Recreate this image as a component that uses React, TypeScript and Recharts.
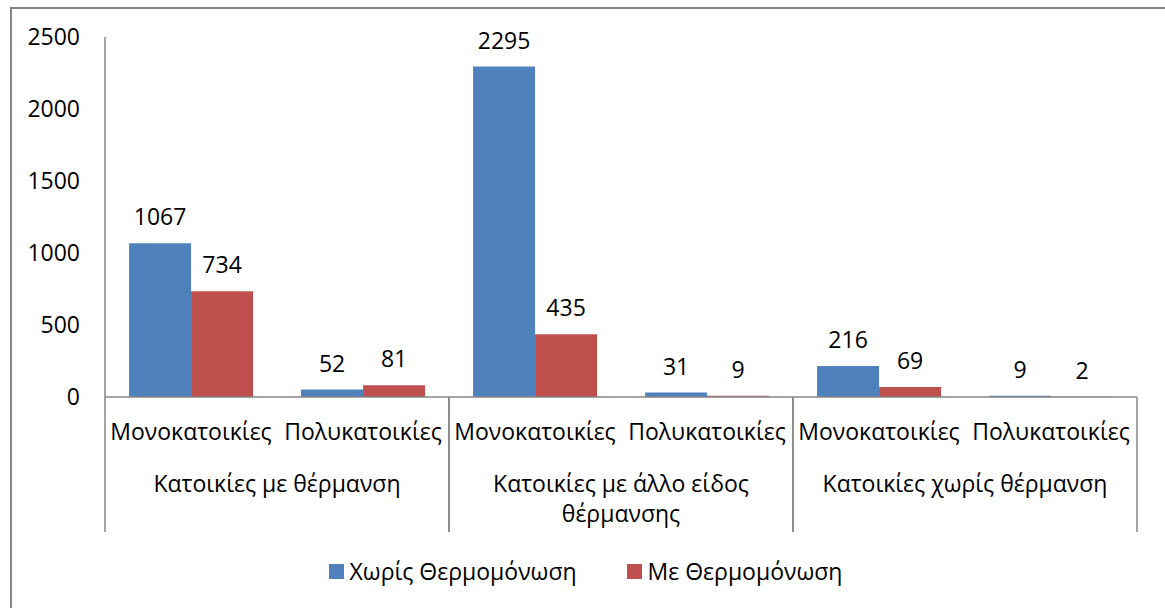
import { BarChart, Bar, XAxis, YAxis, Legend, LabelList } from 'recharts'

const font = '"Open Sans", "Noto Sans", sans-serif'
const fs = 23

const groups = ['Κατοικίες με θέρμανση', 'Κατοικίες με άλλο είδος θέρμανσης', 'Κατοικίες χωρίς θέρμανση']
const types = ['Μονοκατοικίες', 'Πολυκατοικίες']
const seriesNames = ['Χωρίς Θερμομόνωση', 'Με Θερμομόνωση']
const withoutInsulation = [1067, 52, 2295, 31, 216, 9]
const withInsulation = [734, 81, 435, 9, 69, 2]
const yTicks = [0, 500, 1000, 1500, 2000, 2500]

const data = withoutInsulation.map((v, i) => ({
  group: groups[Math.floor(i / 2)],
  type: types[i % 2],
  without: v,
  with: withInsulation[i],
}))

const axisGray = '#868686'
const subAxisHeight = 58

// word wrap using canvas text metrics
function wrap(text: string, maxWidth: number) {
  const ctx = document.createElement('canvas').getContext('2d')!
  ctx.font = `${fs}px ${font}`
  const lines: string[] = []
  let cur = ''
  for (const w of text.split(' ')) {
    const next = cur ? cur + ' ' + w : w
    if (cur && ctx.measureText(next).width > maxWidth) {
      lines.push(cur)
      cur = w
    } else cur = next
  }
  if (cur) lines.push(cur)
  return lines
}

function GroupTick(props: any) {
  const { x, y, payload } = props
  const half = payload.offset ?? 0
  const lines = wrap(String(payload.value), 300)
  return (
    <g>
      <line x1={x - half} x2={x - half} y1={y - subAxisHeight} y2={y + 77} stroke={axisGray} strokeWidth={1.5} />
      <line x1={x + half} x2={x + half} y1={y - subAxisHeight} y2={y + 77} stroke={axisGray} strokeWidth={1.5} />
      <text textAnchor="middle" fontSize={fs} fontFamily={font} fill="#000">
        {lines.map((l, i) => (
          <tspan key={i} x={x} y={y + 37 + i * 30}>{l}</tspan>
        ))}
      </text>
    </g>
  )
}

function LegendContent(props: any) {
  const items = [...(props.payload || [])].sort(
    (a: any, b: any) => seriesNames.indexOf(a.value) - seriesNames.indexOf(b.value))
  return (
    <div style={{ display: 'flex', justifyContent: 'center', gap: 50, height: 28, alignItems: 'center', paddingLeft: 34, fontFamily: font, fontSize: fs, color: '#000' }}>
      {items.map((it: any) => (
        <div key={it.value} style={{ display: 'flex', alignItems: 'center', gap: 6 }}>
          <span style={{ width: 15, height: 15, background: it.color, display: 'inline-block' }} />
          <span>{it.value}</span>
        </div>
      ))}
    </div>
  )
}

export default function App() {
  return (
    <div style={{ position: 'fixed', left: 0, top: 0, width: 1165, height: 608, overflow: 'hidden', background: '#fff' }}>
      <div style={{ position: 'absolute', left: 10, top: 7, width: 1200, height: 700, border: `2px solid ${axisGray}`, boxSizing: 'border-box' }} />
      <div style={{ position: 'absolute', left: 0, top: 0 }}>
        <BarChart width={1165} height={608} data={data} margin={{ top: 37, right: 28, left: 0, bottom: 23 }}
          barCategoryGap="14%" barGap={0}>
          <XAxis dataKey="type" interval={0} height={subAxisHeight} tickLine={false} tickSize={0} tickMargin={27}
            axisLine={{ stroke: axisGray, strokeWidth: 1.5 }}
            tick={{ fontSize: fs, fill: '#000', fontFamily: font }} />
          <XAxis xAxisId="group" dataKey="group" allowDuplicatedCategory={false} interval={0} height={102}
            axisLine={false} tickLine={false} tickSize={0} tickMargin={0} tick={<GroupTick />} />
          <YAxis domain={[0, 2500]} ticks={yTicks} width={105} tickLine={false} tickSize={0} tickMargin={25}
            axisLine={{ stroke: axisGray, strokeWidth: 1.5 }}
            tick={{ fontSize: fs, fill: '#000', fontFamily: font }} />
          <Legend verticalAlign="bottom" content={<LegendContent />} />
          <Bar dataKey="without" name={seriesNames[0]} fill="#4F81BD" isAnimationActive={false}>
            <LabelList dataKey="without" position="top" offset={18} fill="#000" fontSize={fs} fontFamily={font} />
          </Bar>
          <Bar dataKey="with" name={seriesNames[1]} fill="#C0504D" isAnimationActive={false}>
            <LabelList dataKey="with" position="top" offset={18} fill="#000" fontSize={fs} fontFamily={font} />
          </Bar>
        </BarChart>
      </div>
    </div>
  )
}
